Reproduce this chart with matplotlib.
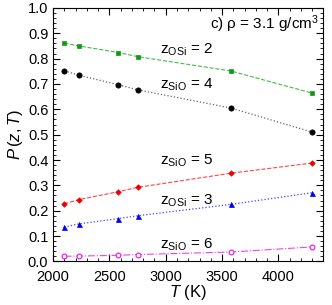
import matplotlib

matplotlib.use("Agg")
import matplotlib.pyplot as plt
from matplotlib.ticker import MultipleLocator

plt.rcParams["font.family"] = ["Liberation Sans", "DejaVu Sans"]
plt.rcParams["mathtext.fontset"] = "custom"
plt.rcParams["mathtext.rm"] = "Liberation Sans"
plt.rcParams["mathtext.it"] = "Liberation Sans:italic"

temps = [2100, 2230, 2580, 2750, 3580, 4300]
p_osi2 = [0.861, 0.850, 0.824, 0.808, 0.751, 0.664]
p_sio4 = [0.752, 0.734, 0.697, 0.677, 0.605, 0.510]
p_sio5 = [0.227, 0.244, 0.275, 0.292, 0.348, 0.388]
p_osi3 = [0.135, 0.148, 0.169, 0.180, 0.225, 0.271]
p_sio6 = [0.020, 0.021, 0.024, 0.027, 0.037, 0.057]

fig = plt.figure(figsize=(3.32, 3.05), dpi=100)
ax = fig.add_axes([0.160, 0.143, 0.814, 0.831])

ax.plot(temps, p_osi2, ls="--", lw=0.8, color="#44bb44", marker="s", ms=3.0,
        mfc="#119911", mec="#119911", mew=0.5)
ax.plot(temps, p_sio4, ls=":", lw=0.9, color="#666666", marker="o", ms=3.8,
        mfc="black", mec="black", mew=0.5)
ax.plot(temps, p_sio5, ls="--", lw=0.8, color="#ff4444", marker="D", ms=2.8,
        mfc="#ee0000", mec="#ee0000", mew=0.5)
ax.plot(temps, p_osi3, ls=":", lw=0.9, color="#4444ff", marker="^", ms=3.6,
        mfc="#0000ee", mec="#0000ee", mew=0.5)
ax.plot(temps, p_sio6, ls="-.", lw=0.8, color="#ee44ee", marker="o", ms=3.4,
        mfc="white", mec="#ee22ee", mew=0.9)

lab = dict(fontsize=11, ha="left", va="center")
ax.text(2945, 0.835, r"z$_\mathregular{OSi}$ = 2", **lab)
ax.text(2945, 0.695, r"z$_\mathregular{SiO}$ = 4", **lab)
ax.text(2945, 0.395, r"z$_\mathregular{SiO}$ = 5", **lab)
ax.text(2945, 0.240, r"z$_\mathregular{OSi}$ = 3", **lab)
ax.text(2945, 0.066, r"z$_\mathregular{SiO}$ = 6", **lab)
ax.text(4360, 0.935, r"c) ρ = 3.1 g/cm$^\mathregular{3}$", fontsize=11,
        ha="right", va="center")

ax.set_xlim(2000, 4400)
ax.set_ylim(0.0, 1.0)
ax.xaxis.set_major_locator(MultipleLocator(500))
ax.xaxis.set_minor_locator(MultipleLocator(100))
ax.yaxis.set_major_locator(MultipleLocator(0.1))
ax.yaxis.set_minor_locator(MultipleLocator(0.02))
ax.yaxis.set_major_formatter(plt.FormatStrFormatter("%.1f"))
ax.tick_params(which="both", direction="in", top=True, right=True, labelsize=10.5)
ax.tick_params(which="major", length=5, width=0.8)
ax.tick_params(which="minor", length=2.5, width=0.6)
ax.tick_params(axis="x", pad=6.5)

ax.set_xlabel(r"$T$ (K)", fontsize=12, labelpad=-1)
ax.set_ylabel(r"$P\,(z,T)$", fontsize=12, labelpad=2)

fig.savefig("out.png", dpi=100)
